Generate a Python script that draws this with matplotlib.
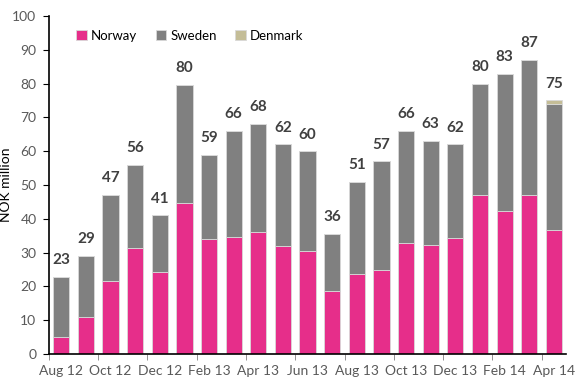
import numpy as np
import matplotlib
matplotlib.use('Agg')
import matplotlib.pyplot as plt

plt.rcParams['font.family'] = ['Lato', 'DejaVu Sans']

months = ['Aug 12', 'Sep 12', 'Oct 12', 'Nov 12', 'Dec 12', 'Jan 13', 'Feb 13', 'Mar 13',
          'Apr 13', 'May 13', 'Jun 13', 'Jul 13', 'Aug 13', 'Sep 13', 'Oct 13', 'Nov 13',
          'Dec 13', 'Jan 14', 'Feb 14', 'Mar 14', 'Apr 14']
totals = [23, 29, 47, 56, 41, 80, 59, 66, 68, 62, 60, 36, 51, 57, 66, 63, 62, 80, 83, 87, 75]
norway = [5.1, 10.9, 21.5, 31.3, 24.4, 44.6, 33.9, 34.7, 36.0, 32.0, 30.5, 18.7, 23.7, 24.9,
          32.8, 32.3, 34.2, 47.1, 42.4, 47.2, 36.8]
sweden = [17.8, 18.1, 25.5, 24.7, 16.6, 35.0, 25.1, 31.3, 32.0, 30.0, 29.5, 16.9, 27.3, 32.1,
          33.2, 30.7, 27.8, 32.9, 40.6, 39.8, 37.2]
denmark = [0, 0, 0, 0, 0, 0, 0, 0, 0, 0, 0, 0, 0, 0, 0, 0, 0, 0, 0, 0, 1.1]

c_nor = '#E62E8A'
c_swe = '#808080'
c_den = '#C4BD97'
txt = '#404040'

fig = plt.figure(figsize=(5.76, 3.83), dpi=100)
ax = fig.add_axes([0.085, 0.0757, 0.898, 0.8823])

x = np.arange(len(months))
w = 0.66
ec = '#D9D9D9'
ax.bar(x, norway, w, color=c_nor, edgecolor=ec, linewidth=0.6, label='Norway')
ax.bar(x, sweden, w, bottom=norway, color=c_swe, edgecolor=ec, linewidth=0.6, label='Sweden')
bot = np.array(norway) + np.array(sweden)
ax.bar(x, denmark, w, bottom=bot, color=c_den, edgecolor=ec, linewidth=0.6, label='Denmark')

tops = bot + np.array(denmark)
for xi, t, lab in zip(x, tops, totals):
    ax.annotate(str(lab), (xi, t), xytext=(0, 7), textcoords='offset points',
                ha='center', va='bottom', fontsize=11, fontweight='bold', color=txt)

ax.set_ylim(0, 100)
ax.set_xlim(-0.5, len(months) - 0.5)
ax.set_yticks(np.arange(0, 101, 10))
ax.set_xticks(x[::2])
ax.set_xticklabels(months[::2])
ax.set_xticks(np.arange(-0.5, len(months), 2), minor=True)
ax.tick_params(axis='x', which='major', length=0, pad=8, labelsize=10, labelcolor='#595959')
ax.tick_params(axis='x', which='minor', length=4, color='#808080')
ax.tick_params(axis='y', length=4, pad=5, labelsize=10, labelcolor='#595959')
ax.spines['top'].set_visible(False)
ax.spines['right'].set_visible(False)
ax.spines['left'].set_linewidth(1.2)
ax.spines['bottom'].set_linewidth(1.2)
ax.set_ylabel('NOK million', fontsize=10, color='black')
ax.yaxis.set_label_coords(-0.072, 0.5)

ax.legend(loc='upper left', bbox_to_anchor=(0.03, 0.995), ncol=3, frameon=False,
          fontsize=9.5, handlelength=0.8, handleheight=0.8, handletextpad=0.3,
          columnspacing=1.4)

fig.savefig('out.png', dpi=100)
